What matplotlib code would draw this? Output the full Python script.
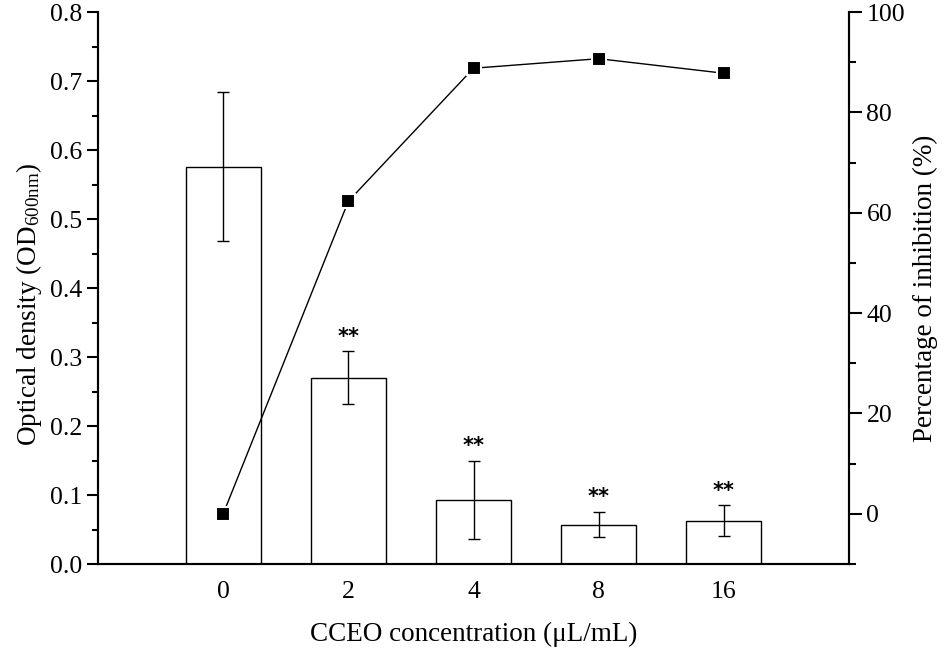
import numpy as np
import matplotlib
matplotlib.use("Agg")
import matplotlib.pyplot as plt
from matplotlib.ticker import MultipleLocator

plt.rcParams['font.family'] = ['Liberation Serif', 'DejaVu Serif']
plt.rcParams['mathtext.default'] = 'regular'

concentrations = ['0', '2', '4', '8', '16']
od_mean = [0.576, 0.270, 0.093, 0.057, 0.063]
od_err = [0.108, 0.038, 0.057, 0.018, 0.022]
inhibition = [0.0, 62.3, 88.8, 90.7, 87.8]
signif = ['', '**', '**', '**', '**']

x = np.arange(len(concentrations))

fig = plt.figure(figsize=(9.5, 6.5), dpi=100)
ax1 = fig.add_axes([0.1032, 0.1323, 0.7905, 0.8492])

ax1.bar(x, od_mean, width=0.6, color='white', edgecolor='black', linewidth=1.0)
ax1.errorbar(x, od_mean, yerr=od_err, fmt='none', ecolor='black', elinewidth=1.0,
             capsize=4, capthick=1.0)
for xi, m, e, s in zip(x, od_mean, od_err, signif):
    if s:
        ax1.text(xi, m + e + 0.007, s, ha='center', va='bottom', fontsize=15,
                 fontweight='bold', family='DejaVu Sans')

ax1.set_xlim(-1, 5)
ax1.set_ylim(0, 0.8)
ax1.set_xticks(x)
ax1.set_xticklabels(concentrations)
ax1.yaxis.set_major_locator(MultipleLocator(0.1))
ax1.yaxis.set_minor_locator(MultipleLocator(0.05))
ax1.yaxis.set_major_formatter(matplotlib.ticker.FormatStrFormatter('%.1f'))
ax1.tick_params(axis='x', length=0, labelsize=18.5, pad=12)
ax1.tick_params(axis='y', which='major', direction='out', length=8, width=1.5, labelsize=18.5)
ax1.tick_params(axis='y', which='minor', direction='out', length=4, width=1.5)
ax1.set_xlabel('CCEO concentration (μL/mL)', fontsize=19.5, labelpad=14)
ax1.set_ylabel('Optical density (OD$_{600nm}$)', fontsize=19.5, labelpad=10)
ax1.yaxis.set_label_coords(-0.072, 0.47)
ax1.spines['top'].set_visible(False)
for sp in ['left', 'bottom', 'right']:
    ax1.spines[sp].set_linewidth(1.5)

ax2 = ax1.twinx()
ax2.plot(x, inhibition, color='black', linewidth=1.0, marker='s', markersize=9.5,
         markerfacecolor='black', markeredgecolor='white', markeredgewidth=1.5)
ax2.set_ylim(-10, 100)
ax2.yaxis.set_major_locator(MultipleLocator(20))
ax2.yaxis.set_minor_locator(MultipleLocator(10))
ax2.tick_params(axis='y', which='major', direction='out', length=9, width=1.5, labelsize=18.5)
ax2.tick_params(axis='y', which='minor', direction='out', length=5, width=1.5)
ax2.set_ylabel('Percentage of inhibition (%)', fontsize=19.5, labelpad=6)
ax2.spines['top'].set_visible(False)
for sp in ['left', 'bottom', 'right']:
    ax2.spines[sp].set_linewidth(1.5)

fig.savefig('out.png', dpi=100)
